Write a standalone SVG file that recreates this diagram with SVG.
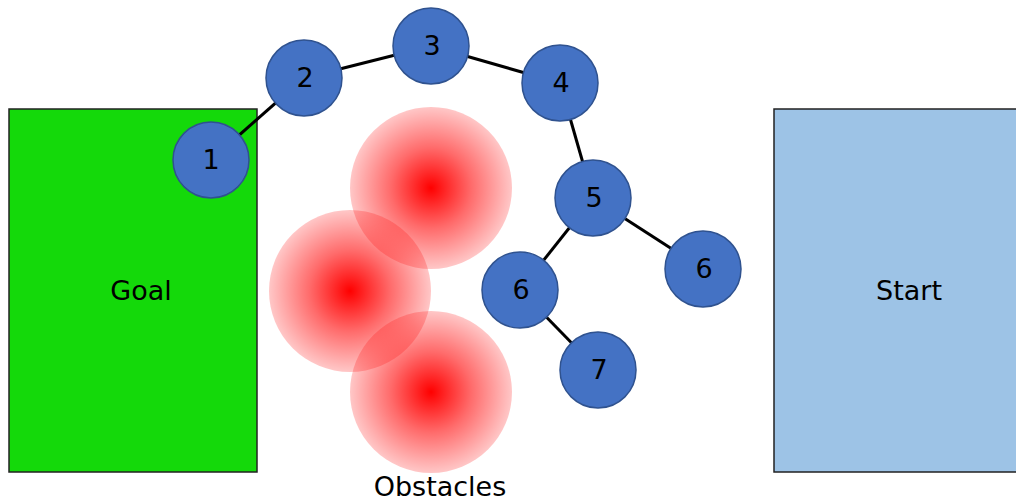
<svg xmlns="http://www.w3.org/2000/svg" width="1016" height="502" viewBox="0 0 1016 502">
  <defs>
    <radialGradient id="obstacleGlow" cx="50%" cy="50%" r="50%">
      <stop offset="0" stop-color="#ff0000" stop-opacity="1"/>
      <stop offset="0.5" stop-color="#ff0000" stop-opacity="0.58"/>
      <stop offset="1" stop-color="#ff0000" stop-opacity="0.22"/>
    </radialGradient>
    <style>
      text { font-family: "DejaVu Sans", "Liberation Sans", sans-serif; font-size: 27px; fill: #000; text-anchor: middle; dominant-baseline: central; }
      .area { stroke: #222; stroke-width: 1.5; }
      .node circle { fill: #4472c4; stroke: #2f528f; stroke-width: 1.5; }
      .obstacle { fill: url(#obstacleGlow); }
      #connectors line { stroke: #000; stroke-width: 3; }
    </style>
  </defs>
  <rect width="1016" height="502" fill="#fff"/>

  <!-- goal and start regions -->
  <g id="goal">
    <rect class="area" x="9" y="109" width="248" height="363" fill="#14d90a"/>
    <text x="141" y="290">Goal</text>
  </g>
  <g id="start">
    <rect class="area" x="774" y="109" width="250" height="363" fill="#9dc3e6"/>
    <text x="909" y="290">Start</text>
  </g>

  <!-- obstacles -->
  <g id="obstacles">
    <circle class="obstacle" cx="431" cy="188" r="81"/>
    <circle class="obstacle" cx="350" cy="291" r="81"/>
    <circle class="obstacle" cx="431" cy="392" r="81"/>
    <text x="440" y="486">Obstacles</text>
  </g>

  <!-- tree edges -->
  <g id="connectors">
    <line x1="211" y1="160" x2="304" y2="78"/>
    <line x1="304" y1="78" x2="431" y2="46"/>
    <line x1="431" y1="46" x2="560" y2="83"/>
    <line x1="560" y1="83" x2="593" y2="198"/>
    <line x1="593" y1="198" x2="520" y2="290"/>
    <line x1="593" y1="198" x2="703" y2="269"/>
    <line x1="520" y1="290" x2="598" y2="370"/>
  </g>

  <!-- tree nodes -->
  <g id="node1" class="node"><circle cx="211" cy="160" r="38"/><text x="211" y="159">1</text></g>
  <g id="node2" class="node"><circle cx="304" cy="78" r="38"/><text x="305" y="77">2</text></g>
  <g id="node3" class="node"><circle cx="431" cy="46" r="38"/><text x="432" y="45">3</text></g>
  <g id="node4" class="node"><circle cx="560" cy="83" r="38"/><text x="561" y="82">4</text></g>
  <g id="node5" class="node"><circle cx="593" cy="198" r="38"/><text x="594" y="197">5</text></g>
  <g id="node6a" class="node"><circle cx="520" cy="290" r="38"/><text x="521" y="289">6</text></g>
  <g id="node6b" class="node"><circle cx="703" cy="269" r="38"/><text x="704" y="268">6</text></g>
  <g id="node7" class="node"><circle cx="598" cy="370" r="38"/><text x="599" y="369">7</text></g>
</svg>
